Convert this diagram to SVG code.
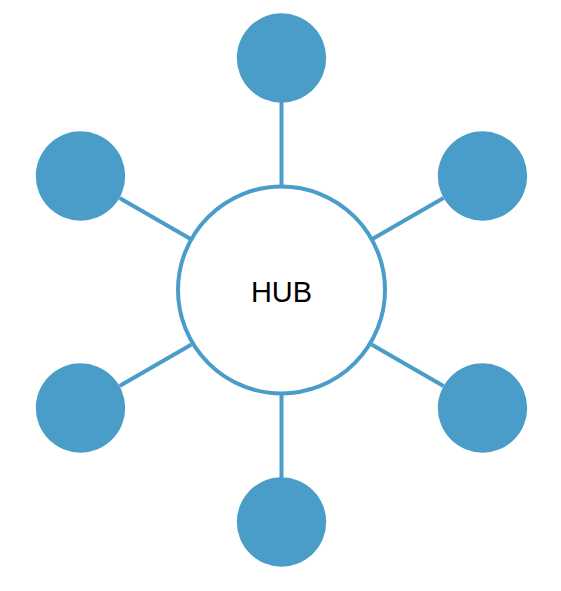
<svg xmlns="http://www.w3.org/2000/svg" width="561" height="591" viewBox="0 0 561 591">
<style>
.sat{fill:#4a9cc9;}
.hub{fill:#ffffff;stroke:#4a9cc9;stroke-width:4;}
.edge{stroke:#4a9cc9;stroke-width:4;fill:none;}
.lbl{font-family:"Liberation Sans",Arial,sans-serif;font-size:29px;fill:#000;}
</style>
<rect width="561" height="591" fill="#fff"/>
<g id="connectors">
<line class="edge" x1="281.5" y1="102" x2="281.5" y2="186"/>
<line class="edge" x1="443.5" y1="198" x2="371.5" y2="239.5"/>
<line class="edge" x1="443.5" y1="386" x2="371.5" y2="344.5"/>
<line class="edge" x1="281.5" y1="478" x2="281.5" y2="394"/>
<line class="edge" x1="119.5" y1="386" x2="191.5" y2="344.5"/>
<line class="edge" x1="119.5" y1="198" x2="191.5" y2="239.5"/>
</g>
<g id="hub">
<circle class="hub" cx="281.5" cy="290" r="103.5"/>
<text class="lbl" x="281.5" y="301.5" text-anchor="middle">HUB</text>
</g>
<g id="n1"><circle class="sat" cx="281.5" cy="58" r="44.7"/></g>
<g id="n2"><circle class="sat" cx="482.5" cy="176" r="44.7"/></g>
<g id="n3"><circle class="sat" cx="482.5" cy="408" r="44.7"/></g>
<g id="n4"><circle class="sat" cx="281.5" cy="522" r="44.7"/></g>
<g id="n5"><circle class="sat" cx="80.5" cy="408" r="44.7"/></g>
<g id="n6"><circle class="sat" cx="80.5" cy="176" r="44.7"/></g>
</svg>
